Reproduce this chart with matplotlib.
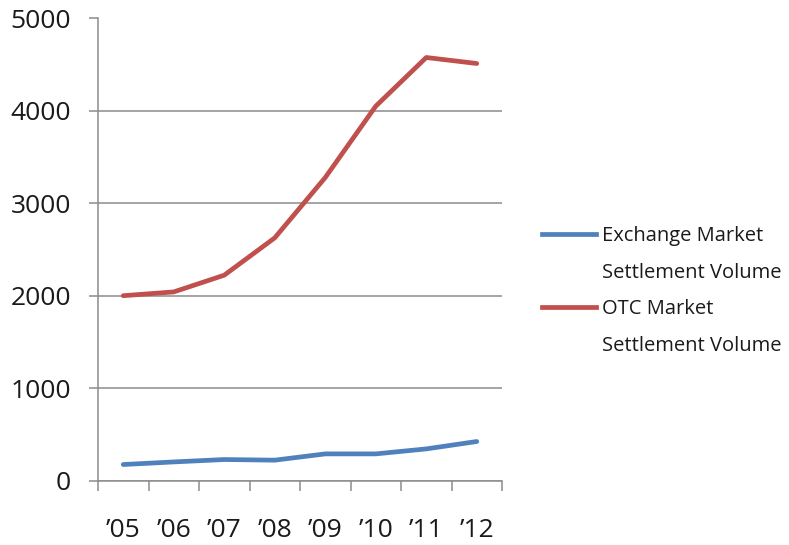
import matplotlib
matplotlib.use('Agg')
import matplotlib.pyplot as plt
from matplotlib.lines import Line2D
import numpy as np

plt.rcParams['font.family'] = ['Open Sans', 'DejaVu Sans']

# settlement volume by year
years = ["\u201905", "\u201906", "\u201907", "\u201908", "\u201909", "\u201910", "\u201911", "\u201912"]
exchange = [173, 201, 227, 220, 288, 288, 342, 422]
otc = [2000, 2041, 2222, 2626, 3279, 4051, 4578, 4513]
series_names = ["Exchange Market\nSettlement Volume", "OTC Market\nSettlement Volume"]
series_colors = ["#4F81BD", "#C0504D"]
y_ticks = [0, 1000, 2000, 3000, 4000, 5000]

grid_col = "#8C8C8C"

fig = plt.figure(figsize=(7.89, 5.45), dpi=100)
ax = fig.add_axes([98 / 789, 1 - 480.5 / 545, (502 - 98) / 789, (480.5 - 18.5) / 545])

x = np.arange(len(years))
lines = []
for vals, col in zip([exchange, otc], series_colors):
    ln, = ax.plot(x, vals, color=col, lw=3.4, solid_capstyle='round', solid_joinstyle='round')
    lines.append(ln)

ax.set_xlim(-0.5, len(years) - 0.5)
ax.set_ylim(0, 5000)
ax.set_yticks(y_ticks)
ax.set_yticklabels([str(t) for t in y_ticks])
ax.yaxis.grid(True, color=grid_col, lw=1.1)
ax.set_axisbelow(True)

# category labels centred, tick marks on the category boundaries
ax.set_xticks(x)
ax.set_xticklabels(years)
ax.set_xticks(np.arange(len(years) + 1) - 0.5, minor=True)
ax.tick_params(axis='x', which='major', length=0, pad=27, labelsize=19, colors='#1a1a1a')
ax.tick_params(axis='x', which='minor', length=7.5, width=1.1, color=grid_col)
ax.tick_params(axis='y', length=6.5, width=1.1, color=grid_col, pad=13, labelsize=19, labelcolor='#1a1a1a')

for s in ['top', 'right']:
    ax.spines[s].set_visible(False)
for s in ['left', 'bottom']:
    ax.spines[s].set_color(grid_col)
    ax.spines[s].set_linewidth(1.1)

# legend: one row per text line, swatch on the first line of each entry
handles, labels = [], []
for ln, name in zip(lines, series_names):
    parts = name.split("\n")
    handles.append(Line2D([], [], color=ln.get_color(), lw=3.4))
    labels.append(parts[0])
    for p in parts[1:]:
        handles.append(Line2D([], [], color='none'))
        labels.append(p)
leg = fig.legend(handles, labels, loc='center left', bbox_to_anchor=(542 / 789, 1 - 291 / 545),
                 frameon=False, fontsize=14.5, handlelength=2.7, handletextpad=0.28,
                 labelspacing=0.82, borderaxespad=0, borderpad=0)
for t in leg.get_texts():
    t.set_color('#1a1a1a')

fig.savefig('out.png', dpi=100)
